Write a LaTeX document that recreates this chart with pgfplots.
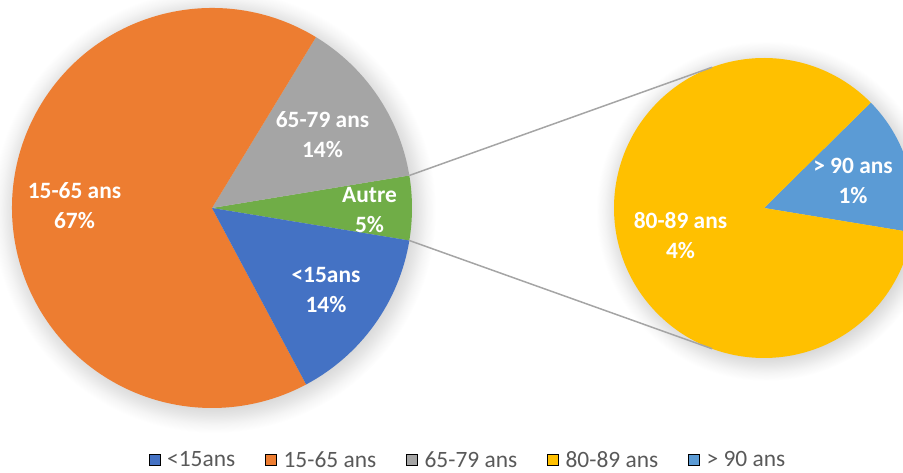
\documentclass[border=0pt]{standalone}
\usepackage{pgfplots}
\pgfplotsset{compat=1.18}
\usepackage{fontspec}
\setmainfont{Carlito}
\definecolor{cBlue}{HTML}{4472C4}
\definecolor{cOrange}{HTML}{ED7D31}
\definecolor{cGray}{HTML}{A5A5A5}
\definecolor{cYellow}{HTML}{FFC000}
\definecolor{cLBlue}{HTML}{5B9BD5}
\definecolor{cGreen}{HTML}{70AD47}
\definecolor{legtext}{HTML}{595959}
\pgfdeclareradialshading{shMain}{\pgfpoint{0bp}{0bp}}{color(0bp)=(black!15); color(22bp)=(black!15); color(23bp)=(black!10); color(24bp)=(black!4); color(25bp)=(white); color(50bp)=(white)}
\pgfdeclareradialshading{shSec}{\pgfpoint{0bp}{0bp}}{color(0bp)=(black!15); color(21.5bp)=(black!15); color(22.6bp)=(black!10); color(23.8bp)=(black!4); color(25bp)=(white); color(50bp)=(white)}
% data (percent)
\def\vU{14.6}   % <15ans
\def\vM{66.5}   % 15-65 ans
\def\vO{13.7}   % 65-79 ans
\def\vA{4.42}   % 80-89 ans
\def\vB{0.78}   % > 90 ans
\pgfmathsetmacro\vAut{\vA+\vB}
\pgfmathsetmacro\gS{-1.8*\vAut}
\pgfmathsetmacro\gE{1.8*\vAut}
\pgfmathsetmacro\oE{\gE+3.6*\vO}
\pgfmathsetmacro\mE{\oE+3.6*\vM}
\pgfmathsetmacro\uE{\mE+3.6*\vU}
\pgfmathsetmacro\bE{\gS+360*\vB/\vAut}
\pgfmathsetmacro\aE{\gS+360}
\begin{document}
\begin{tikzpicture}
\begin{axis}[name=ax, at={(0,0)}, anchor=south west,
  x=1bp, y=1bp, xmin=0, xmax=903, ymin=0, ymax=473,
  hide axis, clip=true,
  legend columns=-1,
  legend image code/.code={\fill[#1] (0bp,-5.5bp) rectangle (11bp,5.5bp);},
  legend style={draw=none, fill=none, at={(axis cs:467.5,13)}, anchor=center,
    font=\fontsize{23.5}{28}\selectfont, text=legtext,
    /tikz/every even column/.append style={column sep=29bp},
    /tikz/every odd column/.append style={column sep=6bp},
    nodes={inner sep=1bp}},
]
\addlegendimage{fill=cBlue}\addlegendentry{<15ans}
\addlegendimage{fill=cOrange}\addlegendentry{15-65 ans}
\addlegendimage{fill=cGray}\addlegendentry{65-79 ans}
\addlegendimage{fill=cYellow}\addlegendentry{80-89 ans}
\addlegendimage{fill=cLBlue}\addlegendentry{> 90 ans}
% shadows
\shade[shading=shMain] (axis cs:214,262) circle[radius=222bp];
\shade[shading=shSec] (axis cs:766,262) circle[radius=170bp];
% main pie
\fill[cGreen] (axis cs:212,265) -- ([shift={(\gS:200bp)}]axis cs:212,265) arc[start angle=\gS, end angle=\gE, radius=200bp] -- cycle;
\fill[cGray] (axis cs:212,265) -- ([shift={(\gE:200bp)}]axis cs:212,265) arc[start angle=\gE, end angle=\oE, radius=200bp] -- cycle;
\fill[cOrange] (axis cs:212,265) -- ([shift={(\oE:200bp)}]axis cs:212,265) arc[start angle=\oE, end angle=\mE, radius=200bp] -- cycle;
\fill[cBlue] (axis cs:212,265) -- ([shift={(\mE:200bp)}]axis cs:212,265) arc[start angle=\mE, end angle=\uE, radius=200bp] -- cycle;
% secondary pie
\fill[cLBlue] (axis cs:764,265) -- ([shift={(\gS:150bp)}]axis cs:764,265) arc[start angle=\gS, end angle=\bE, radius=150bp] -- cycle;
\fill[cYellow] (axis cs:764,265) -- ([shift={(\bE:150bp)}]axis cs:764,265) arc[start angle=\bE, end angle=\aE, radius=150bp] -- cycle;
% connectors
\draw[cGray, line width=1.5bp] ([shift={(\gE:200bp)}]axis cs:212,265) -- ([shift={(110.2:150bp)}]axis cs:764,265);
\draw[cGray, line width=1.5bp] ([shift={(\gS:200bp)}]axis cs:212,265) -- ([shift={(-110.2:150bp)}]axis cs:764,265);
% labels
\begin{scope}[every node/.style={text=white, align=center, inner sep=0pt, font=\bfseries\fontsize{23.5}{30}\selectfont}]
\node at (axis cs:322.5,338) {65-79 ans\\14\%};
\node at (axis cs:369.5,263) {Autre\\5\%};
\node at (axis cs:326,183) {<15ans\\14\%};
\node at (axis cs:74.5,267) {15-65 ans\\67\%};
\node at (axis cs:853,292) {> 90 ans\\1\%};
\node at (axis cs:680.5,237.3) {80-89 ans\\4\%};
\end{scope}
\end{axis}
\pgfresetboundingbox
\path[use as bounding box] (ax.south west) rectangle (ax.north east);
\end{tikzpicture}
\end{document}
